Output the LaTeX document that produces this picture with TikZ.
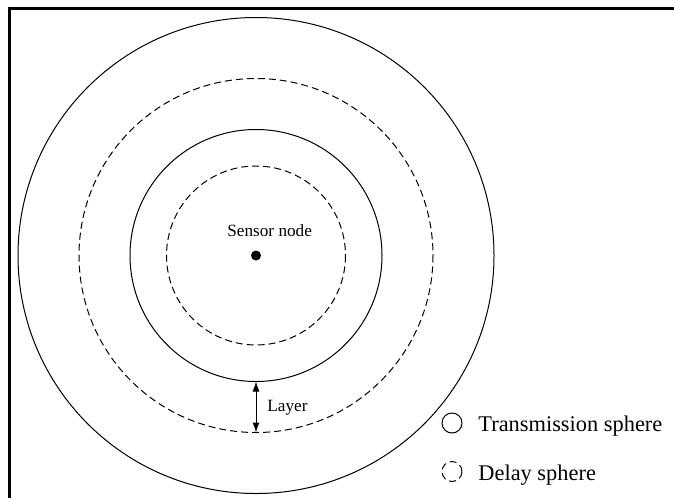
\documentclass[tikz,border=0pt]{standalone}
\usepackage{fontspec}
\setmainfont{Liberation Serif}
\usetikzlibrary{arrows.meta}

\begin{document}
\begin{tikzpicture}[x=0.5pt,y=-0.5pt]
\tikzstyle{every node}+=[inner sep=0pt]
\tikzstyle{delay}=[black, line width=0.5pt, dash pattern=on 3.5pt off 2pt]
\tikzstyle{trans}=[black, line width=0.5pt]
\tikzstyle{smalltext}=[font=\fontsize{8.6}{10}\selectfont, anchor=base west]
\tikzstyle{keytext}=[font=\fontsize{11.2}{13}\selectfont, anchor=base west]
\useasboundingbox (0,0) rectangle (674,498);
\draw [black, line width=1.5pt] (9.5,498) -- (9.5,8) -- (674,8);
\node [circle, fill=black, minimum size=5pt] (sensor) at (256,255.5) {};
\draw [trans] (sensor.center) circle (238);
\draw [delay] (sensor.center) circle (177);
\draw [trans] (sensor.center) circle (126);
\draw [delay] (sensor.center) circle (89.5);
\node [smalltext] (sensorlbl) at (227,236) {Sensor node};
\coordinate (transedge) at (256,381.5);
\coordinate (delayedge) at (256,432.5);
\draw [black, line width=0.5pt, {Latex[length=5pt,width=3.5pt]}-{Latex[length=5pt,width=3.5pt]}] (transedge) -- (delayedge);
\node [smalltext] (layerlbl) at (267,411.5) {Layer};
\node [trans, draw, circle, minimum size=10pt] (transkey) at (452,423) {};
\node [keytext] (transkeylbl) at (478,431.5) {Transmission sphere};
\node [delay, draw, circle, minimum size=10pt] (delaykey) at (452,471.5) {};
\node [keytext] (delaykeylbl) at (478,480) {Delay sphere};
\end{tikzpicture}
\end{document}
